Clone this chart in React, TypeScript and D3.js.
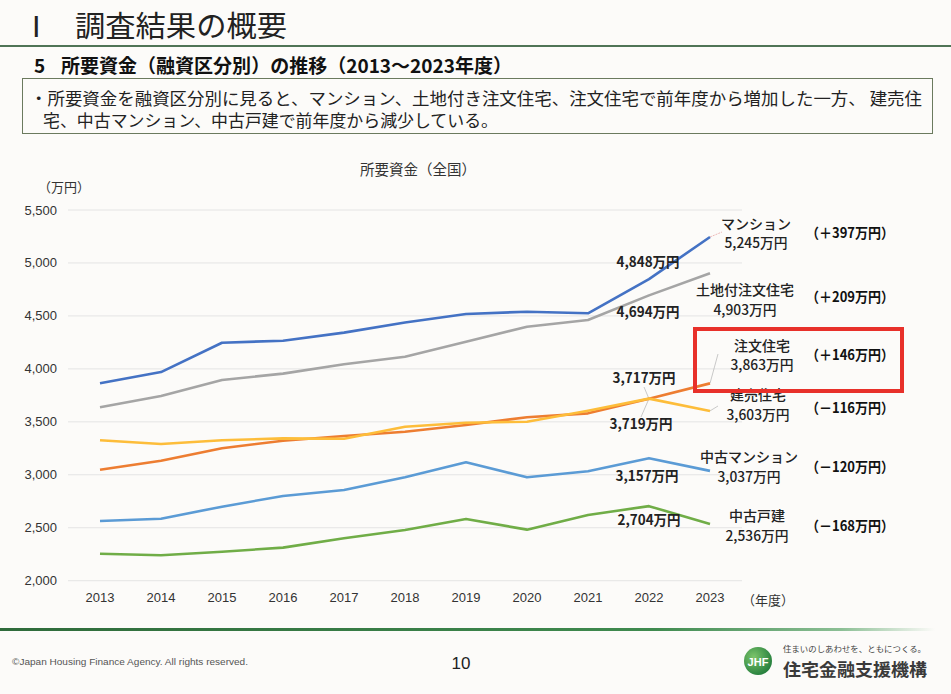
import React from 'react';
import * as d3 from 'd3';

// ---- data ----
const years = [2013, 2014, 2015, 2016, 2017, 2018, 2019, 2020, 2021, 2022, 2023];
const seriesNames = ['マンション', '土地付注文住宅', '注文住宅', '建売住宅', '中古マンション', '中古戸建'];
const mansion = [3864, 3970, 4247, 4266, 4342, 4437, 4518, 4540, 4525, 4848, 5245];
const tochiChumon = [3637, 3744, 3895, 3955, 4043, 4115, 4257, 4398, 4461, 4694, 4903];
const chumon = [3048, 3133, 3250, 3322, 3366, 3407, 3470, 3543, 3580, 3717, 3863];
const tateuri = [3326, 3291, 3326, 3344, 3340, 3454, 3492, 3501, 3605, 3719, 3603];
const chukoMansion = [2564, 2585, 2699, 2800, 2856, 2976, 3118, 2976, 3033, 3157, 3037];
const chukoKodate = [2255, 2240, 2274, 2312, 2400, 2479, 2583, 2482, 2620, 2704, 2536];
const changeLabels = ['（＋397万円）', '（＋209万円）', '（＋146万円）', '（－116万円）', '（－120万円）', '（－168万円）'];
const yTicks = [2000, 2500, 3000, 3500, 4000, 4500, 5000, 5500];

const seriesValues = [mansion, tochiChumon, chumon, tateuri, chukoMansion, chukoKodate];

// ---- styles / layout ----
const colors = ['#4472c4', '#a5a5a5', '#ed7d31', '#fdbd3a', '#5b9bd5', '#70ad47'];
const endLabelLayout = [
  { cx: 756, nameY: 229, valueY: 248, changeY: 238 },
  { cx: 745, nameY: 295, valueY: 315, changeY: 302 },
  { cx: 762, nameY: 351, valueY: 370, changeY: 360 },
  { cx: 758, nameY: 400, valueY: 420, changeY: 413 },
  { cx: 749, nameY: 462, valueY: 482, changeY: 472 },
  { cx: 757, nameY: 521, valueY: 541, changeY: 531 },
];
// labels of the 2022 values: label center x, baseline y
const prevLabelLayout = [
  { cx: 648, y: 267 },
  { cx: 648, y: 317 },
  { cx: 644, y: 383 },
  { cx: 641, y: 429 },
  { cx: 647, y: 481 },
  { cx: 649, y: 525 },
];

const JP = '"Noto Sans CJK JP", "Noto Sans", sans-serif';
const NUM = '"Liberation Sans", Arial, sans-serif';
const fmt = d3.format(',');

export default function App() {
  const W = 951;
  const H = 694;
  const x = d3.scaleLinear().domain([2013, 2023]).range([100, 710]);
  const y = d3.scaleLinear().domain([2000, 5500]).range([580.7, 210]);
  const line = d3
    .line<number>()
    .x((_, i) => x(years[i]))
    .y((d) => y(d));

  const last = years.length - 1;
  const prev = years.length - 2;

  return (
    <div style={{ position: 'absolute', left: 0, top: 0 }}>
      <svg width={W} height={H} style={{ display: 'block', background: '#fcfbf9' }}>
        <defs>
          <linearGradient id="footLine" x1="0" x2="1" y1="0" y2="0">
            <stop offset="0" stopColor="#2f6b3b" />
            <stop offset="0.7" stopColor="#3f8a4f" />
            <stop offset="0.9" stopColor="#8cbf95" />
            <stop offset="1" stopColor="#fcfbf9" />
          </linearGradient>
          <radialGradient id="logoG" cx="0.35" cy="0.35" r="0.75">
            <stop offset="0" stopColor="#7cc46a" />
            <stop offset="1" stopColor="#1f7a3a" />
          </radialGradient>
        </defs>

        {/* header */}
        <text x={32} y={37} fontFamily='"Liberation Serif", serif' fontSize={29} fill="#222">Ⅰ</text>
        <text x={75} y={37} fontFamily={JP} fontSize={29} fill="#222" textLength={212} lengthAdjust="spacingAndGlyphs">
          調査結果の概要
        </text>
        <rect x={0} y={45} width={W} height={2} fill="#4f7456" />
        <text x={34} y={73} fontFamily={JP} fontSize={19} fontWeight="bold" fill="#111">5</text>
        <text x={61} y={73} fontFamily={JP} fontSize={19} fontWeight="bold" fill="#111" textLength={451} lengthAdjust="spacingAndGlyphs">
          所要資金（融資区分別）の推移（2013～2023年度）
        </text>
        <rect x={22.5} y={78.5} width={910} height={55} fill="none" stroke="#6b7a5e" strokeWidth={1} />
        <text x={30} y={105} fontFamily={JP} fontSize={16.5} fill="#222" textLength={892} lengthAdjust="spacingAndGlyphs">
          ・所要資金を融資区分別に見ると、マンション、土地付き注文住宅、注文住宅で前年度から増加した一方、 建売住
        </text>
        <text x={43} y={127} fontFamily={JP} fontSize={16.5} fill="#222" textLength={455} lengthAdjust="spacingAndGlyphs">
          宅、中古マンション、中古戸建で前年度から減少している。
        </text>

        {/* chart title & units */}
        <text x={418} y={175} textAnchor="middle" fontFamily={JP} fontSize={14.5} fill="#333">所要資金（全国）</text>
        <text x={38} y={192} fontFamily={JP} fontSize={13} fill="#333">（万円）</text>
        <text x={742} y={605} fontFamily={JP} fontSize={13} fill="#333">（年度）</text>

        {/* grid + y ticks */}
        {yTicks.map((t) => (
          <g key={t}>
            <line x1={68} x2={742} y1={y(t)} y2={y(t)} stroke="#e4e4e4" strokeWidth={1} />
            <text x={57} y={y(t) + 4.5} textAnchor="end" fontFamily={NUM} fontSize={13} fill="#333">
              {fmt(t)}
            </text>
          </g>
        ))}
        {/* x ticks */}
        {years.map((yr) => (
          <text key={yr} x={x(yr)} y={602} textAnchor="middle" fontFamily={NUM} fontSize={13} fill="#333">
            {yr}
          </text>
        ))}

        {/* leader lines */}
        <line x1={x(2023)} y1={y(mansion[last])} x2={722} y2={232} stroke="#e7a6a6" strokeWidth={0.8} strokeDasharray="2,1" />
        <line x1={x(2023)} y1={y(chumon[last])} x2={718} y2={354} stroke="#bbb" strokeWidth={0.8} />
        <line x1={x(2023)} y1={y(tateuri[last])} x2={718} y2={406} stroke="#bbb" strokeWidth={0.8} />
        <line x1={644} y1={387} x2={x(2022)} y2={y(chumon[prev])} stroke="#bbb" strokeWidth={0.8} />
        <line x1={x(2022)} y1={y(tateuri[prev])} x2={641} y2={417} stroke="#bbb" strokeWidth={0.8} />

        {/* lines */}
        {seriesValues.map((vals, i) => (
          <path key={seriesNames[i]} d={line(vals) || ''} fill="none" stroke={colors[i]} strokeWidth={2.6} strokeLinejoin="round" />
        ))}

        {/* 2022 value labels */}
        {seriesValues.map((vals, i) => (
          <text key={'p' + i} x={prevLabelLayout[i].cx} y={prevLabelLayout[i].y} textAnchor="middle" fontFamily={JP} fontSize={14} fontWeight="bold" fill="#222" textLength={63} lengthAdjust="spacingAndGlyphs">
            {fmt(vals[prev])}万円
          </text>
        ))}

        {/* end labels */}
        {seriesValues.map((vals, i) => {
          const L = endLabelLayout[i];
          return (
            <g key={'e' + i}>
              <text x={L.cx} y={L.nameY} textAnchor="middle" fontFamily={JP} fontSize={14} fontWeight={500} fill="#222">
                {seriesNames[i]}
              </text>
              <text x={L.cx} y={L.valueY} textAnchor="middle" fontFamily={JP} fontSize={14} fontWeight={500} fill="#222" textLength={63} lengthAdjust="spacingAndGlyphs">
                {fmt(vals[last])}万円
              </text>
              <text x={806} y={L.changeY} fontFamily={JP} fontSize={14} fontWeight="bold" fill="#111" textLength={88} lengthAdjust="spacingAndGlyphs">
                {changeLabels[i]}
              </text>
            </g>
          );
        })}

        {/* highlight box */}
        <rect x={695} y={329} width={207} height={62} fill="none" stroke="#e8302a" strokeWidth={4} />

        {/* footer */}
        <rect x={0} y={628} width={935} height={3} fill="url(#footLine)" />
        <text x={12} y={665} fontFamily={NUM} fontSize={9.5} fill="#555" textLength={236} lengthAdjust="spacingAndGlyphs">
          ©Japan Housing Finance Agency. All rights reserved.
        </text>
        <text x={461} y={669} textAnchor="middle" fontFamily={NUM} fontSize={17} fill="#222">10</text>
        <circle cx={758} cy={661} r={14} fill="url(#logoG)" />
        <text x={758} y={666} textAnchor="middle" fontFamily={NUM} fontSize={11} fontWeight="bold" fill="#fff">JHF</text>
        <text x={783} y={652} fontFamily={JP} fontSize={8} fill="#444" textLength={143} lengthAdjust="spacingAndGlyphs">
          住まいのしあわせを、ともにつくる。
        </text>
        <text x={783} y={676} fontFamily={JP} fontSize={17.5} fontWeight="bold" fill="#3a3a3a" textLength={144} lengthAdjust="spacingAndGlyphs">
          住宅金融支援機構
        </text>
      </svg>
    </div>
  );
}
